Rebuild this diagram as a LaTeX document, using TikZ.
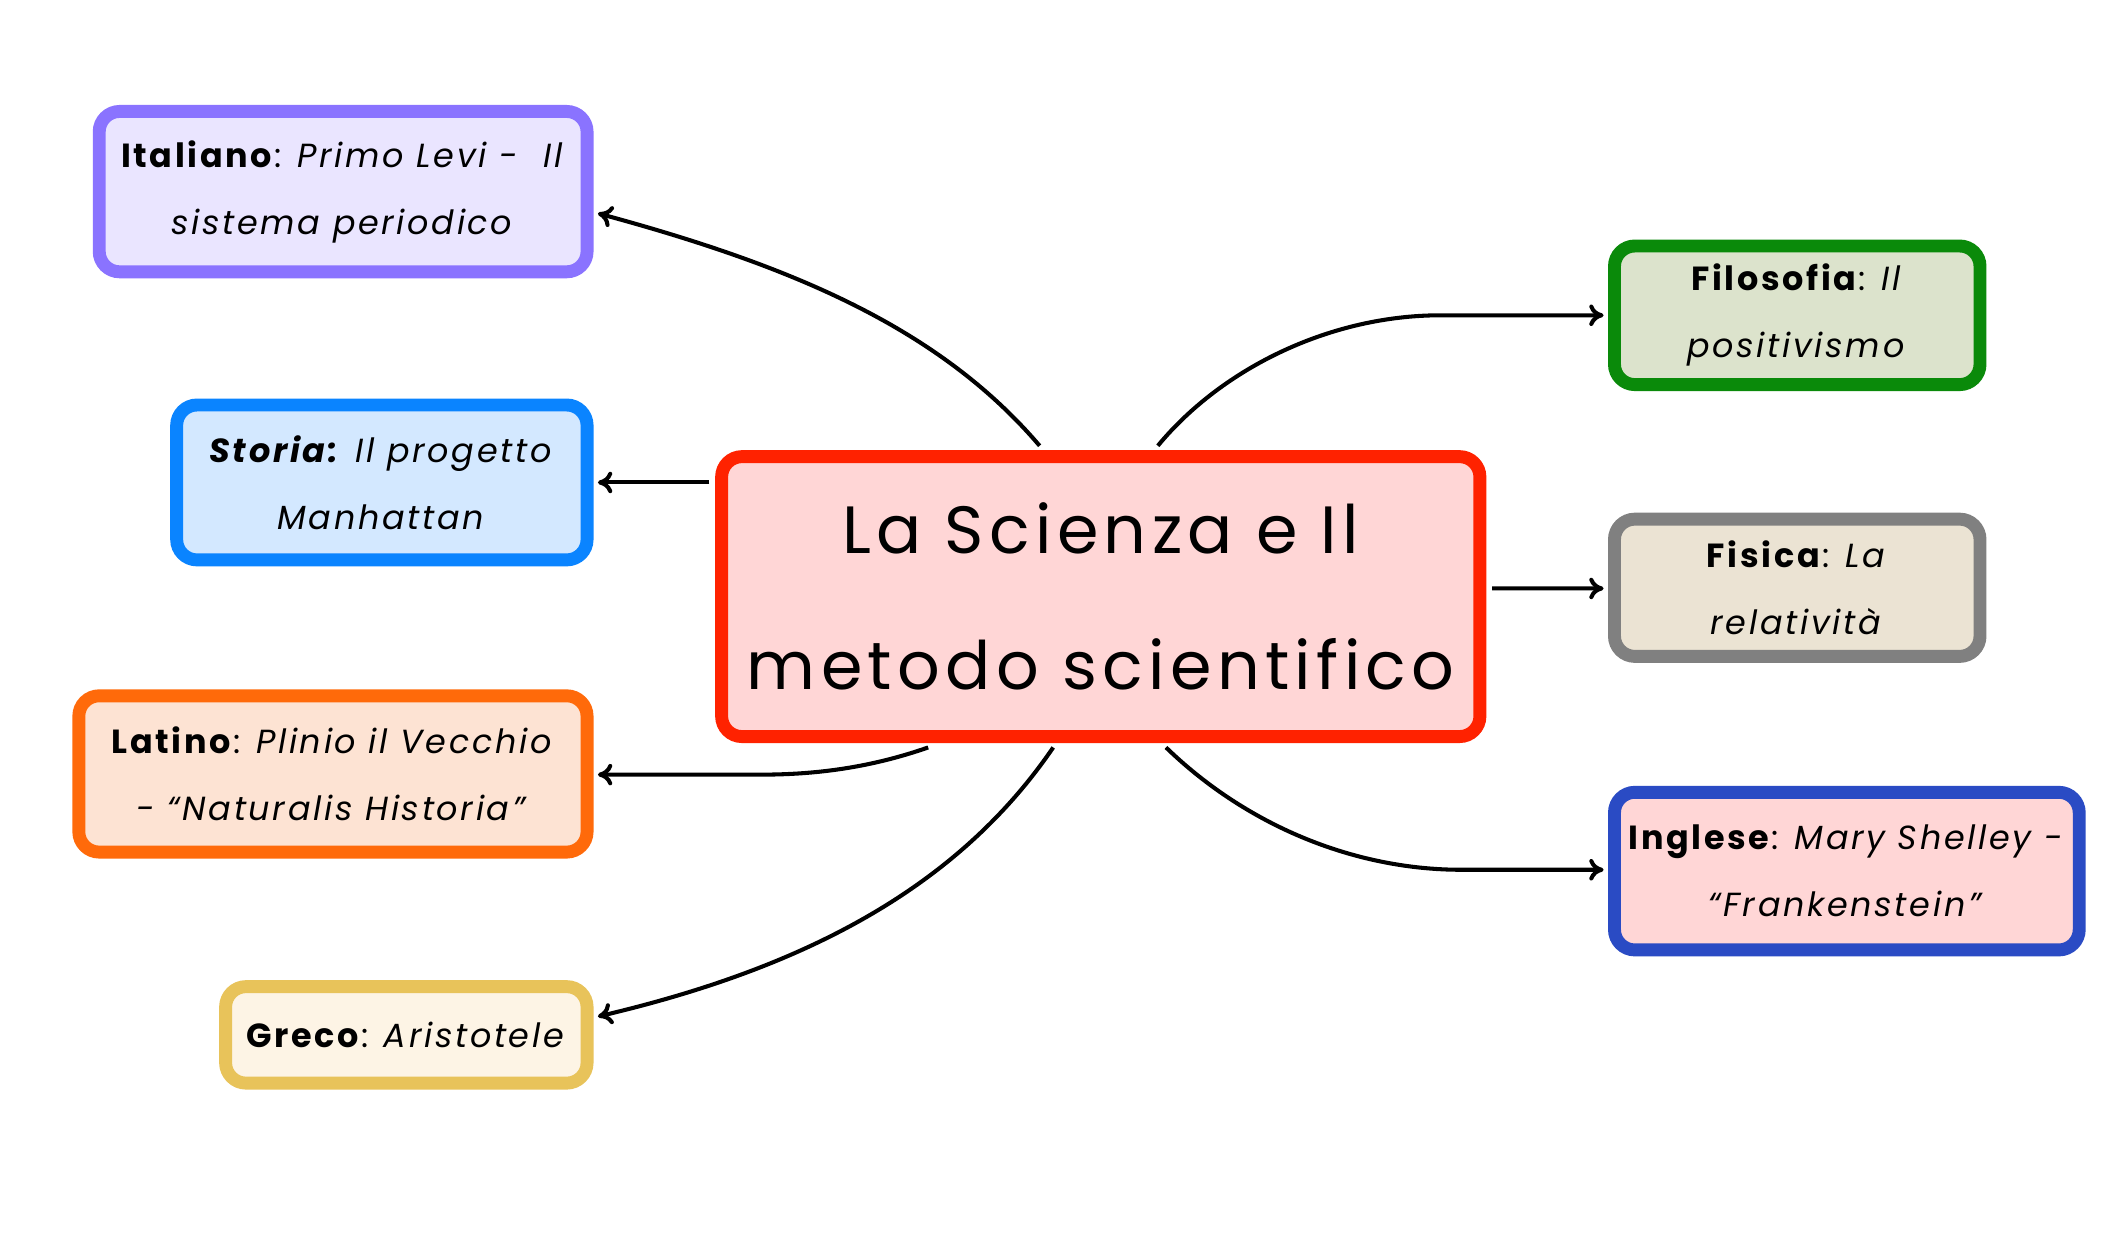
\documentclass[tikz,border=0pt]{standalone}
\usepackage{fontspec}
\setmainfont{Poppins}[LetterSpace=8]
\usetikzlibrary{arrows.meta,calc}
\definecolor{cR}{HTML}{FF2200}\definecolor{fR}{HTML}{FFD6D6}
\definecolor{cP}{HTML}{8A73FF}\definecolor{fP}{HTML}{EAE5FF}
\definecolor{cB}{HTML}{0A84FF}\definecolor{fB}{HTML}{D3E8FF}
\definecolor{cO}{HTML}{FF6A0A}\definecolor{fO}{HTML}{FDE3D3}
\definecolor{cY}{HTML}{E8C35A}\definecolor{fY}{HTML}{FDF4E5}
\definecolor{cG}{HTML}{0A8A0A}\definecolor{fG}{HTML}{DCE3CC}
\definecolor{cGr}{HTML}{808080}\definecolor{fGr}{HTML}{EBE3D3}
\definecolor{cN}{HTML}{2A4BC4}
\begin{document}
\begin{tikzpicture}[x=0.02cm,y=-0.02cm,
 box/.style={draw=#1,line width=0.19cm,rounded corners=0.3cm,outer sep=0pt,inner sep=0pt,align=center,font=\fontsize{14}{28}\selectfont},
 conn/.style={line width=1.7pt,-{To[length=6pt,width=9pt]}}]
\useasboundingbox (0,0) rectangle (1560,921);
\fill[white] (0,0) rectangle (1560,921);
\node[box=cR,fill=fR,minimum width=558*0.02cm,minimum height=206*0.02cm,font=\fontsize{28}{57}\selectfont] (c) at (810,439) {La Scienza e Il\\metodo scientifico};
\node[box=cP,fill=fP,minimum width=359*0.02cm,minimum height=118*0.02cm] (ita) at (252.5,141) {\textbf{Italiano}: \textit{Primo Levi -~ Il}\\\textit{sistema periodico}};
\node[box=cB,fill=fB,minimum width=302*0.02cm,minimum height=114*0.02cm] (sto) at (281,355) {\textbf{\textit{Storia:}} \textit{Il progetto}\\\textit{Manhattan}};
\node[box=cO,fill=fO,minimum width=374*0.02cm,minimum height=115*0.02cm] (lat) at (245,569.5) {\textbf{Latino}: \textit{Plinio il Vecchio}\\\textit{- “Naturalis Historia”}};
\node[box=cY,fill=fY,minimum width=266*0.02cm,minimum height=71*0.02cm] (gre) at (299,761.5) {\textbf{Greco}: \textit{Aristotele}};
\node[box=cG,fill=fG,minimum width=269*0.02cm,minimum height=102*0.02cm] (fil) at (1322.5,232) {\textbf{Filosofia}: \textit{Il}\\\textit{positivismo}};
\node[box=cGr,fill=fGr,minimum width=269*0.02cm,minimum height=101*0.02cm] (fis) at (1322.5,432.5) {\textbf{Fisica}: \textit{La}\\\textit{relatività}};
\node[box=cN,fill=fR,minimum width=342*0.02cm,minimum height=116*0.02cm] (ing) at (1359,641) {\textbf{Inglese}: \textit{Mary Shelley -}\\\textit{“Frankenstein”}};
\draw[conn] ($(c.north)+(-45,-8)$) .. controls (690,240) and (580,195) .. ($(ita.east)+(8,16)$);
\draw[conn] ($(c.west)+(-9,-84)$) -- ($(sto.east)+(8,0)$);
\draw[conn] ($(c.south)+(-127,8)$) .. controls (640,565) and (600,570) .. (560,570) -- ($(lat.east)+(8,0.5)$);
\draw[conn] ($(c.south)+(-35,8)$) .. controls (700,660) and (580,715) .. ($(gre.east)+(8,-13.5)$);
\draw[conn] ($(c.north)+(42,-8)$) .. controls (900,270) and (980,232) .. (1060,232) -- ($(fil.west)+(-8,0)$);
\draw[conn] ($(c.east)+(9,-6)$) -- ($(fis.west)+(-8,0.5)$);
\draw[conn] ($(c.south)+(48,8)$) .. controls (920,610) and (1000,640) .. (1075,640) -- ($(ing.west)+(-8,-1)$);
\end{tikzpicture}
\end{document}
